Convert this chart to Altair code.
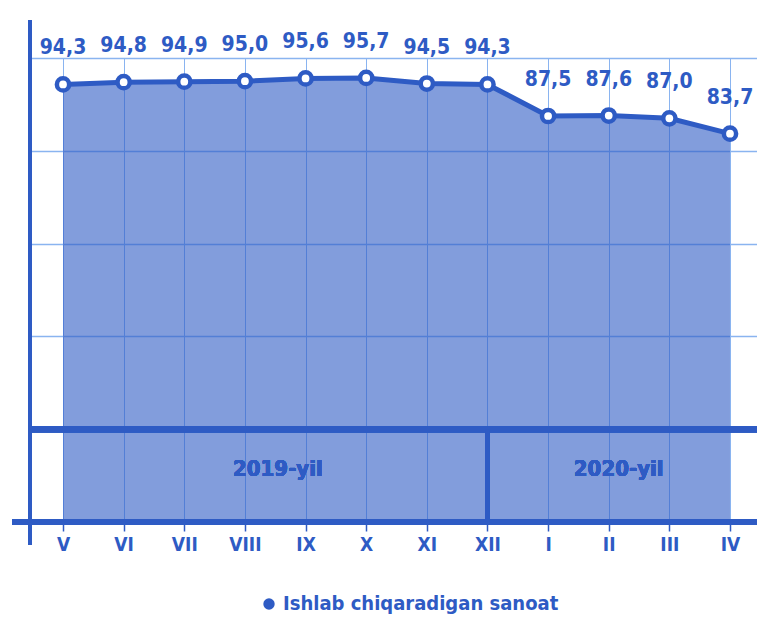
import altair as alt
import pandas as pd

months = ["V", "VI", "VII", "VIII", "IX", "X", "XI", "XII", "I", "II", "III", "IV"]
values = [94.3, 94.8, 94.9, 95.0, 95.6, 95.7, 94.5, 94.3, 87.5, 87.6, 87.0, 83.7]
series_name = "Ishlab chiqaradigan sanoat"
year_labels = ["2019-yil", "2020-yil"]
grid_values = [0, 20, 40, 60, 80, 100]

BLUE = "#2E5BC4"
GRID = "#8AB4F0"
FONT = "Liberation Sans Narrow, DejaVu Sans Condensed, Roboto, sans-serif"

df = pd.DataFrame({
    "month": months,
    "value": values,
    "label": [f"{v:.1f}".replace(".", ",") for v in values],
    "series": [series_name] * len(months),
})

x = alt.X("month:N", sort=months,
          scale=alt.Scale(type="point", domain=months, padding=0.495, align=0.55),
          axis=alt.Axis(title=None, labelAngle=0, grid=True, gridColor=GRID, gridWidth=1,
                        domain=False, ticks=True, tickSize=9, tickColor=BLUE, tickWidth=1.5,
                        labelColor=BLUE, labelFont=FONT, labelFontSize=19,
                        labelFontWeight="bold", labelPadding=4))
y = alt.Y("value:Q", scale=alt.Scale(domain=[0, 100], nice=False, zero=True),
          axis=alt.Axis(title=None, labels=False, ticks=False, domain=False, grid=True,
                        values=grid_values, gridColor=GRID, gridWidth=1.5))

base = alt.Chart(df)

area = base.mark_area(opacity=0.6).encode(
    x=x, y=y,
    color=alt.Color("series:N", scale=alt.Scale(range=[BLUE]),
                    legend=alt.Legend(title=None, orient="none", legendX=229, legendY=536,
                                      symbolType="circle", symbolSize=130, symbolOpacity=1,
                                      labelFont=FONT, labelFontSize=20, labelFontWeight="bold",
                                      labelColor=BLUE, labelLimit=0, labelOffset=4)),
)

rule0 = alt.Chart(df).mark_rule(color=BLUE, strokeWidth=6).encode(
    y=alt.datum(0), x=alt.value(-18), x2=alt.value(727))
rule20 = alt.Chart(df).mark_rule(color=BLUE, strokeWidth=6).encode(
    y=alt.datum(20), x=alt.value(0), x2=alt.value(727))
divider = alt.Chart(df).mark_rule(color=BLUE, strokeWidth=4).encode(
    x=alt.datum("XII"), y=alt.datum(0), y2=alt.datum(20))
yaxis = alt.Chart(df).mark_rule(color=BLUE, strokeWidth=4).encode(
    x=alt.value(0), y=alt.value(-38), y2=alt.value(487))

line = base.mark_line(color=BLUE, strokeWidth=5).encode(x=x, y=y)
points = base.mark_point(shape="circle", filled=True, fill="white", stroke=BLUE,
                         strokeWidth=4.5, size=150, opacity=1).encode(x=x, y=y)
labels = base.mark_text(dy=-36, font=FONT, fontSize=21, fontWeight="bold",
                        color=BLUE).encode(x=x, y=y, text="label")

year1 = alt.Chart(df).mark_text(font=FONT, fontSize=22, fontWeight="bold", color=BLUE, dx=33).encode(
    x=alt.datum("VIII"), y=alt.datum(11.5), text=alt.value(year_labels[0]))
year2 = alt.Chart(df).mark_text(font=FONT, fontSize=22, fontWeight="bold", color=BLUE, dx=10).encode(
    x=alt.datum("II"), y=alt.datum(11.5), text=alt.value(year_labels[1]))

chart = alt.layer(area, rule0, rule20, divider, yaxis, line, points, labels, year1, year2).properties(
    width=727, height=464,
    autosize=alt.AutoSizeParams(type="none"),
    padding={"left": 22, "top": 50, "right": 0, "bottom": 98},
).configure_view(stroke=None)

chart.save("out.html", embed_options={"renderer": "svg", "actions": False})
